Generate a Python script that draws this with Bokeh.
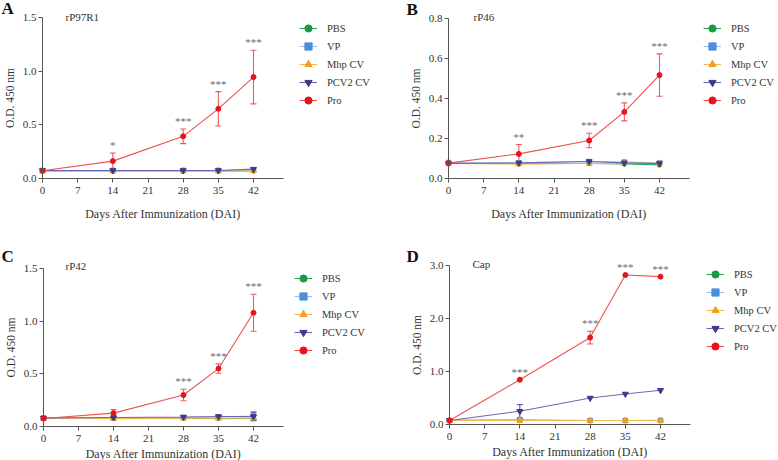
from bokeh.plotting import figure
from bokeh.models import (ColumnDataSource, Whisker, TeeHead, Legend, LegendItem, Label,
                          FixedTicker, NumeralTickFormatter, Range1d)
from bokeh.layouts import column, row
from bokeh.embed import file_html
from bokeh.resources import INLINE
from bokeh.core.properties import value

# ---------------- data ----------------
days = [0, 14, 28, 35, 42]
x_ticks = [0, 7, 14, 21, 28, 35, 42]
groups = ["PBS", "VP", "Mhp CV", "PCV2 CV", "Pro"]

# Panel A  rP97R1
a_pbs = [0.070, 0.070, 0.070, 0.070, 0.070]
a_vp = [0.075, 0.075, 0.075, 0.075, 0.080]
a_mhp = [0.070, 0.070, 0.070, 0.070, 0.072]
a_pcv2 = [0.075, 0.075, 0.075, 0.075, 0.087]
a_pro = [0.072, 0.162, 0.393, 0.649, 0.945]
a_pro_err = [0.0, 0.075, 0.068, 0.160, 0.250]
a_stars = ["", "*", "***", "***", "***"]

# Panel B  rP46
b_pbs = [0.075, 0.075, 0.075, 0.073, 0.068]
b_vp = [0.080, 0.078, 0.085, 0.082, 0.078]
b_mhp = [0.075, 0.072, 0.075, 0.077, 0.076]
b_pcv2 = [0.075, 0.078, 0.085, 0.078, 0.075]
b_pro = [0.077, 0.123, 0.190, 0.333, 0.517]
b_pro_err = [0.0, 0.047, 0.036, 0.045, 0.106]
b_stars = ["", "**", "***", "***", "***"]

# Panel C  rP42
c_pbs = [0.080, 0.078, 0.080, 0.075, 0.078]
c_vp = [0.080, 0.080, 0.085, 0.090, 0.100]
c_vp_err = [0.0, 0.0, 0.0, 0.010, 0.040]
c_mhp = [0.078, 0.075, 0.078, 0.078, 0.080]
c_pcv2 = [0.080, 0.085, 0.090, 0.095, 0.095]
c_pcv2_err = [0.0, 0.0, 0.010, 0.010, 0.040]
c_pro = [0.076, 0.127, 0.299, 0.550, 1.080]
c_pro_err = [0.0, 0.035, 0.055, 0.045, 0.176]
c_stars = ["", "", "***", "***", "***"]

# Panel D  Cap
d_pbs = [0.078, 0.075, 0.075, 0.075, 0.075]
d_vp = [0.078, 0.094, 0.075, 0.075, 0.077]
d_mhp = [0.075, 0.075, 0.075, 0.075, 0.075]
d_pcv2 = [0.075, 0.250, 0.500, 0.576, 0.645]
d_pcv2_err = [0.0, 0.125, 0.0, 0.0, 0.0]
d_pro = [0.075, 0.845, 1.640, 2.820, 2.790]
d_pro_err = [0.0, 0.0, 0.120, 0.0, 0.0]
d_stars = ["", "***", "***", "***", "***"]

ticks_a = [0, 0.5, 1.0, 1.5]
ticks_b = [0, 0.2, 0.4, 0.6, 0.8]
ticks_c = [0, 0.5, 1.0, 1.5]
ticks_d = [0, 1.0, 2.0, 3.0]

# ---------------- styles ----------------
FONT = "Liberation Serif"
marker_cols = ["#179b45", "#4b8fd8", "#f5a01c", "#3c3a8c", "#e8141c"]
line_cols = ["#2aa85a", "#9cc1ec", "#f7b656", "#6b68b3", "#f0504f"]
err_cols = ["#2aa85a", "#7aa9e2", "#f7b656", "#5552a3", "#f05a5a"]
markers = ["circle", "square", "triangle", "inverted_triangle", "circle"]
msizes = [4.5, 4.5, 6, 6, 5]
AX = "#555555"
TXT = "#333333"


def make_panel(letter, title, series, errs, stars, ymax, yticks, g):
    ox, oy, W, H = g["ox"], g["oy"], g["W"], g["H"]
    x0, x42, ytop, y0 = g["x0"], g["x42"], g["ytop"], g["y0"]
    ppd = (x42 - x0) / 42.0
    ppu = (y0 - ytop) / ymax
    xs = (ox - x0) / ppd
    xe = (ox + W - x0) / ppd
    ys = (y0 - (oy + H)) / ppu
    ye = (y0 - oy) / ppu

    p = figure(width=W, height=H, output_backend="svg", toolbar_location=None,
               x_range=Range1d(xs, xe), y_range=Range1d(ys, ye),
               min_border=0, min_border_left=0, min_border_right=0,
               min_border_top=0, min_border_bottom=0)
    p.outline_line_color = None
    p.grid.visible = False
    p.background_fill_color = "white"
    p.border_fill_color = "white"

    for ax in (p.xaxis[0], p.yaxis[0]):
        ax.fixed_location = 0
        ax.axis_line_color = AX
        ax.major_tick_line_color = AX
        ax.minor_tick_line_color = None
        ax.major_tick_out = 4
        ax.major_tick_in = 0
        ax.major_label_text_font = FONT
        ax.major_label_text_font_size = "11px"
        ax.major_label_text_color = TXT
        ax.axis_label_text_font = FONT
        ax.axis_label_text_font_style = "normal"
        ax.axis_label_text_color = TXT
    p.xaxis.major_label_standoff = 4
    p.xaxis.axis_label_standoff = g["xls"]
    p.xaxis.axis_label_text_font_size = "12px"
    p.yaxis.major_label_standoff = 2
    p.yaxis.axis_label_standoff = 4
    p.yaxis.axis_label_text_font_size = "11.5px"
    p.xaxis.ticker = FixedTicker(ticks=x_ticks)
    p.xaxis.axis_label = "Days After Immunization (DAI)"
    p.xaxis.bounds = (0, 48)
    p.yaxis.ticker = FixedTicker(ticks=yticks)
    p.yaxis.formatter = NumeralTickFormatter(format="0.0")
    p.yaxis.axis_label = "O.D. 450 nm"
    p.yaxis.bounds = (0, ymax)

    items = []
    for i, vals in enumerate(series):
        e = errs[i]
        if e is not None:
            bx = [d for d, ee in zip(days, e) if ee > 0]
            up = [v + ee for v, ee in zip(vals, e) if ee > 0]
            lo = [v - ee for v, ee in zip(vals, e) if ee > 0]
            src = ColumnDataSource(dict(x=bx, upper=up, lower=lo))
            w = Whisker(source=src, base="x", upper="upper", lower="lower",
                        line_color=err_cols[i], line_width=1.1, level="underlay",
                        upper_head=TeeHead(size=6, line_color=err_cols[i], line_width=1.1),
                        lower_head=TeeHead(size=6, line_color=err_cols[i], line_width=1.1))
            p.add_layout(w)
        lr = p.line(days, vals, line_color=line_cols[i], line_width=1.1)
        sr = p.scatter(days, vals, marker=markers[i], size=msizes[i],
                       fill_color=marker_cols[i], line_color=marker_cols[i])
        items.append(LegendItem(label=groups[i], renderers=[lr, sr]))

    # significance stars
    pro = series[-1]
    pe = errs[-1]
    sx = [d for d, s in zip(days, stars) if s]
    sy = [v + ee for v, ee, s in zip(pro, pe, stars) if s]
    st = [s for s in stars if s]
    p.text(x=sx, y=sy, text=st, text_font=value(FONT), text_font_size="11px",
           text_color="#6b6b6b", text_align="center", text_baseline="middle",
           y_offset=-8)

    # legend
    gw = 18
    pitch = g["lp"]
    leg_left = g["lx"] - gw / 2.0
    leg_top = g["ly"] - pitch / 2.0
    leg_bottom = leg_top + pitch * len(groups)
    legend = Legend(items=items, location=(leg_left - ox, oy + H - leg_bottom),
                    glyph_width=gw, glyph_height=pitch, label_height=pitch,
                    label_standoff=10, spacing=0, padding=0, margin=0,
                    label_text_font=FONT, label_text_font_size="10.5px",
                    label_text_color=TXT, border_line_color=None,
                    background_fill_alpha=0)
    p.add_layout(legend)

    p.add_layout(Label(x=g["tx"] - ox, y=oy + H - g["ty"], x_units="screen", y_units="screen",
                       text=title, text_font=FONT, text_font_size="11px",
                       text_color=TXT, text_baseline="middle"))
    p.add_layout(Label(x=g["Lx"] - ox, y=oy + H - g["Ly"], x_units="screen", y_units="screen",
                       text=letter, text_font=FONT, text_font_size="17px",
                       text_font_style="bold", text_color="#111111",
                       text_baseline="middle"))
    return p


geo_a = dict(ox=0, oy=0, W=390, H=230, x0=42, x42=253, ytop=17, y0=178, xls=10,
             lx=308, ly=28, lp=18, tx=65, ty=16, Lx=1, Ly=8)
geo_b = dict(ox=390, oy=0, W=388, H=230, x0=448, x42=659, ytop=18, y0=178, xls=10,
             lx=712, ly=28, lp=18, tx=473, ty=16, Lx=406, Ly=9)
geo_c = dict(ox=0, oy=230, W=390, H=230, x0=43, x42=253, ytop=268, y0=426, xls=2,
             lx=303, ly=278, lp=18, tx=65, ty=265, Lx=1, Ly=256)
geo_d = dict(ox=390, oy=230, W=388, H=230, x0=449, x42=660, ytop=265, y0=424, xls=2,
             lx=715, ly=274, lp=18, tx=472, ty=263, Lx=406, Ly=256)

pa = make_panel("A", "rP97R1", [a_pbs, a_vp, a_mhp, a_pcv2, a_pro],
                [None, None, None, None, a_pro_err], a_stars, 1.5, ticks_a, geo_a)
pb = make_panel("B", "rP46", [b_pbs, b_vp, b_mhp, b_pcv2, b_pro],
                [None, None, None, None, b_pro_err], b_stars, 0.8, ticks_b, geo_b)
pc = make_panel("C", "rP42", [c_pbs, c_vp, c_mhp, c_pcv2, c_pro],
                [None, c_vp_err, None, c_pcv2_err, c_pro_err], c_stars, 1.5, ticks_c, geo_c)
pd_ = make_panel("D", "Cap", [d_pbs, d_vp, d_mhp, d_pcv2, d_pro],
                 [None, None, None, d_pcv2_err, d_pro_err], d_stars, 3.0, ticks_d, geo_d)

p = column(row(pa, pb, spacing=0), row(pc, pd_, spacing=0), spacing=0)
open("out.html", "w").write(file_html(p, INLINE))
